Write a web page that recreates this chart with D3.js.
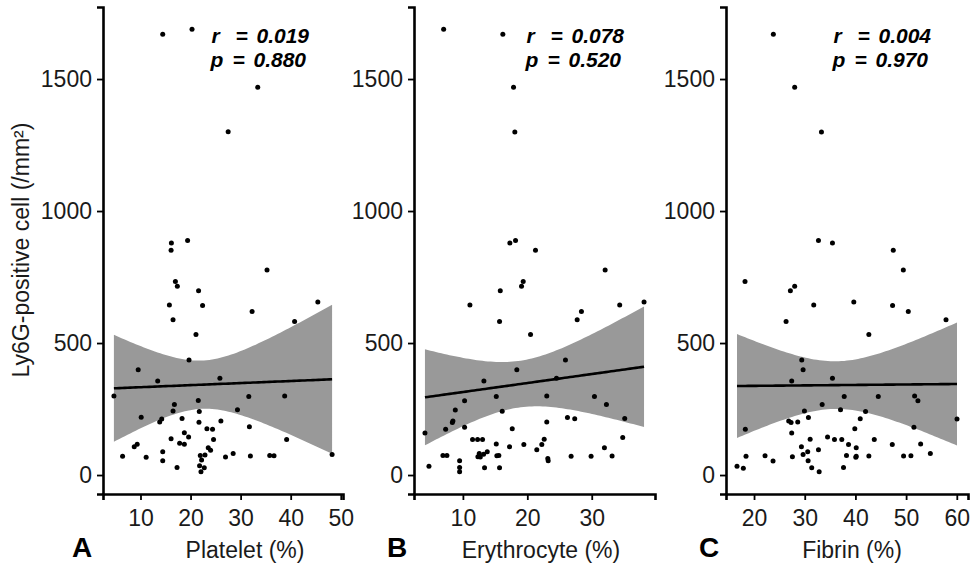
<!DOCTYPE html>
<html><head><meta charset="utf-8">
<script src="https://cdn.jsdelivr.net/npm/d3@7"></script>
<style>
body{margin:0;background:#fff;}
svg{display:block;}
</style></head>
<body>
<svg id="chart" width="973" height="568"></svg>
<script>
// ---- data ----
const plateletX = [14.44,20.29,33.42,27.51,16.17,19.41,16.11,35.27,16.97,17.36,21.6,15.77,22.4,45.42,32.29,16.5,40.78,21.08,19.69,9.54,13.44,25.86,4.69,31.63,38.8,21.54,16.77,16.5,21.74,29.37,10.14,14.24,13.84,18.3,21.68,26.06,31.75,23.27,24.39,18.76,16.11,19.61,24.59,17.82,18.76,39.19,9.34,8.75,23.53,24.0,14.44,28.51,6.42,11.13,21.94,22.88,26.98,31.95,35.81,36.67,14.44,22.2,17.3,21.8,22.74,22.08,48.27];
const plateletY = [1670,1689,1469,1300,879,888,851,777,733,715,698,644,642,655,619,588,582,532,436,399,356,367,299,297,299,282,267,243,241,247,219,212,201,214,200,205,183,175,173,160,137,144,135,120,117,135,117,107,103,94,88,82,71,67,74,76,68,72,74,73,54,57,29,35,28,12,78];

const erythroX = [7.01,16.2,17.86,18.06,17.29,18.17,21.27,32.08,19.36,19.1,15.8,11.09,34.34,38.12,28.4,15.69,27.74,20.5,25.92,18.37,13.26,24.53,4.11,10.26,8.82,15.18,23.02,30.42,32.28,16.1,8.45,8.36,10.26,7.32,17.66,23.02,26.23,27.36,35.12,11.5,12.28,13.05,15.18,17.24,19.46,22.62,22.25,21.47,34.81,31.97,6.9,7.52,12.54,13.78,13.21,12.33,12.7,15.27,15.58,9.49,23.18,23.24,26.8,29.9,33.16,4.73,9.49,9.49,13.36,15.69];
const erythroY = [1689,1670,1469,1299,879,888,851,777,733,715,698,644,644,655,619,582,588,532,436,399,356,367,159,281,246,297,299,297,267,242,205,199,181,173,175,201,218,213,214,135,135,135,118,107,116,136,116,96,142,103,74,74,82,88,79,69,68,73,74,54,63,54,71,71,72,33,29,12,28,28];

const fibrinX = [23.81,28.02,33.3,32.71,35.47,47.47,49.45,18.22,28.02,27.17,31.78,39.68,47.33,50.43,26.32,57.87,42.65,29.41,29.68,27.43,35.47,37.79,44.51,51.68,52.33,33.44,29.94,37.06,42.0,30.73,40.95,60.04,26.84,27.31,28.62,18.28,39.88,51.54,27.43,31.07,34.5,35.87,37.31,43.72,38.64,40.16,47.27,52.87,29.35,32.71,30.59,29.68,54.78,18.42,22.17,27.57,38.24,40.08,40.16,42.65,49.5,50.95,23.75,30.67,16.64,17.89,31.38,37.65,32.85];
const fibrinY = [1670,1469,1299,888,879,851,777,733,715,698,644,655,642,619,582,588,532,436,399,356,367,297,297,299,281,267,243,247,241,218,213,212,205,199,201,173,175,181,159,136,144,135,135,135,116,103,116,118,107,96,88,78,82,71,73,69,74,67,71,72,72,73,53,54,33,26,28,29,12];

// regression line and 95% band (cells/mm2)
const fitAtMinX = [328.5, 294.3, 337.2];
const fitAtMaxX = [362.6, 410.2, 344.8];
const bandHalfMin = [91.5, 88.3, 90.2];
const bandHalfLeft = [202.6, 181.8, 196.9];
const bandHalfRight = [282.2, 228.4, 233.0];

const panelLetters = ["A","B","C"];
const xTitles = ["Platelet (%)","Erythrocyte (%)","Fibrin (%)"];
const rLabels = ["0.019","0.078","0.004"];
const pLabels = ["0.880","0.520","0.970"];
const xTicksA = [10,20,30,40,50];
const xTicksB = [10,20,30];
const xTicksC = [20,30,40,50,60];
const yTicks = [0,500,1000,1500];
const yTitle = "Ly6G-positive cell (/mm\u00B2)";

// ---- layout ----
const svg = d3.select("#chart");
const plotTop = 7, plotBottom = 494;
const panels = [
  {x: plateletX, y: plateletY, ticks: xTicksA, left: 103, right: 343, letterX: 72, titleX: 245, annX: 210.5},
  {x: erythroX,  y: erythroY,  ticks: xTicksB, left: 414, right: 655, letterX: 387, titleX: 541, annX: 525.5},
  {x: fibrinX,   y: fibrinY,   ticks: xTicksC, left: 726, right: 968, letterX: 699, titleX: 852, annX: 832.5}
];

const allY = plateletY.concat(erythroY, fibrinY);
const yMin = d3.min(allY), yMax = d3.max(allY), yPad = (yMax - yMin) * 0.05;
const y = d3.scaleLinear().domain([yMin - yPad, yMax + yPad]).range([plotBottom, plotTop]);

const tickFont = "Liberation Sans, Arial, sans-serif";

panels.forEach((p, i) => {
  const xMin = d3.min(p.x), xMax = d3.max(p.x), xPad = (xMax - xMin) * 0.05;
  const x = d3.scaleLinear().domain([xMin - xPad, xMax + xPad]).range([p.left, p.right]);
  const g = svg.append("g");

  // regression band (standard lm confidence shape fitted to the read widths) + line
  const c2 = bandHalfMin[i] ** 2, l2 = bandHalfLeft[i] ** 2, r2 = bandHalfRight[i] ** 2;
  const ratio = Math.sqrt((l2 - c2) / (r2 - c2));
  const m = (xMin + ratio * xMax) / (1 + ratio);
  const k2 = (l2 - c2) / ((m - xMin) ** 2);
  const fitLine = d3.scaleLinear().domain([xMin, xMax]).range([fitAtMinX[i], fitAtMaxX[i]]);
  const band = d3.range(0, 81).map(j => {
    const xv = xMin + (xMax - xMin) * j / 80;
    const h = Math.sqrt(c2 + k2 * (xv - m) ** 2);
    const yh = fitLine(xv);
    return {xv, yh, lo: yh - h, hi: yh + h};
  });
  g.append("path").datum(band)
    .attr("d", d3.area().x(d => x(d.xv)).y0(d => y(d.lo)).y1(d => y(d.hi)))
    .attr("fill", "#999999");
  g.append("path").datum(band)
    .attr("d", d3.line().x(d => x(d.xv)).y(d => y(d.yh)))
    .attr("fill", "none").attr("stroke", "#000").attr("stroke-width", 2.6);

  // points
  g.selectAll("circle").data(p.x.map((v, k) => [v, p.y[k]])).join("circle")
    .attr("cx", d => x(d[0])).attr("cy", d => y(d[1])).attr("r", 2.5).attr("fill", "#000");

  // axes
  const ya = g.append("g").attr("transform", `translate(${p.left},0)`)
    .call(d3.axisLeft(y).tickValues(yTicks).tickFormat(d3.format("d")).tickSizeOuter(0).tickSize(6).tickPadding(5));
  const xa = g.append("g").attr("transform", `translate(0,${plotBottom})`)
    .call(d3.axisBottom(x).tickValues(p.ticks).tickFormat(d3.format("d")).tickSizeOuter(0).tickSize(6).tickPadding(10));
  [ya, xa].forEach(a => {
    a.select(".domain").attr("stroke", "#000").attr("stroke-width", 2.6);
    a.selectAll(".tick line").attr("stroke", "#000").attr("stroke-width", 1.8);
    a.selectAll(".tick text").attr("fill", "#1a1a1a").style("font-family", tickFont).style("font-size", "23px");
  });

  // annotation: one text per line
  const lines = [
    {sym: "r", val: rLabels[i], yy: 42.5, dx: 1, eq: 25, num: 46},
    {sym: "p", val: pLabels[i], yy: 66.5, dx: 0, eq: 22, num: 43}
  ];
  lines.forEach(L => {
    const t = g.append("text").attr("y", L.yy)
      .style("font-family", tickFont).style("font-weight", "bold")
      .style("font-style", "italic").style("font-size", "21px").attr("fill", "#000");
    t.append("tspan").attr("x", p.annX + L.dx).text(L.sym);
    t.append("tspan").attr("x", p.annX + L.eq).text("=");
    t.append("tspan").attr("x", p.annX + L.num).text(L.val);
  });

  // panel letter and x title
  g.append("text").attr("x", p.letterX).attr("y", 556.5)
    .style("font-family", tickFont).style("font-weight", "bold").style("font-size", "28px")
    .text(panelLetters[i]);
  g.append("text").attr("x", p.titleX).attr("y", 558).attr("text-anchor", "middle")
    .style("font-family", tickFont).style("font-size", "23px").attr("fill", "#1a1a1a")
    .text(xTitles[i]);
});

svg.append("text").attr("transform", "translate(29,250) rotate(-90)").attr("text-anchor", "middle")
  .style("font-family", tickFont).style("font-size", "23px").attr("fill", "#1a1a1a")
  .text(yTitle);
</script>
</body></html>
